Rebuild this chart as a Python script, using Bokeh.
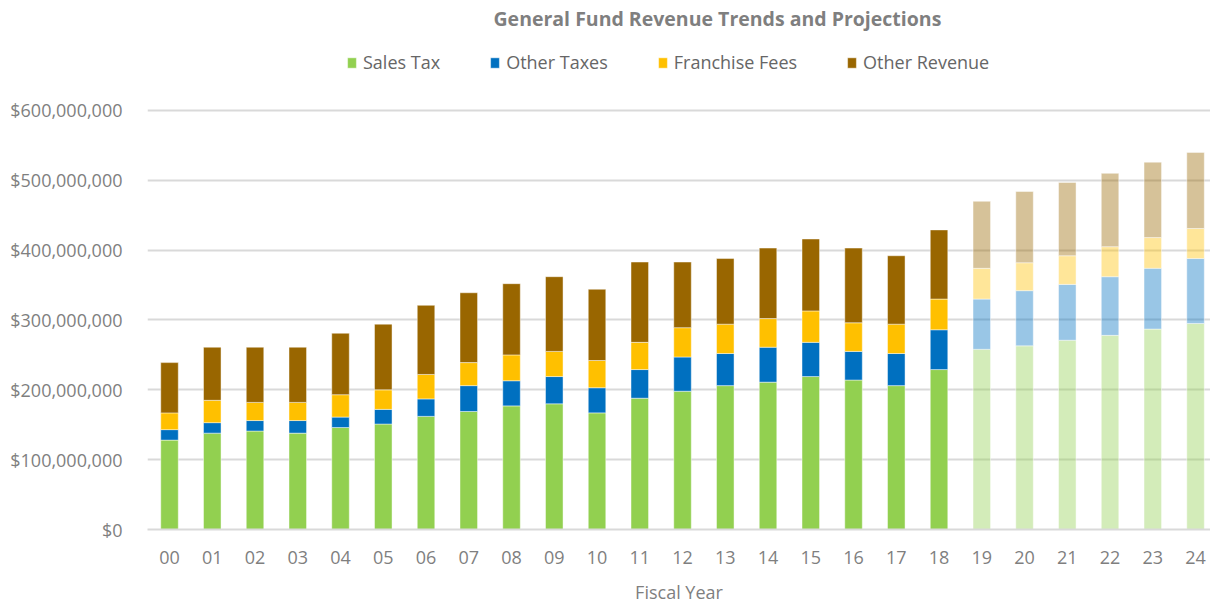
from bokeh.plotting import figure
from bokeh.models import (ColumnDataSource, Range1d, FixedTicker, NumeralTickFormatter,
                          Legend, LegendItem, Label)
from bokeh.embed import file_html
from bokeh.resources import INLINE

title_text = "General Fund Revenue Trends and Projections"
years = ["00", "01", "02", "03", "04", "05", "06", "07", "08", "09", "10", "11", "12",
         "13", "14", "15", "16", "17", "18", "19", "20", "21", "22", "23", "24"]
sales_tax = [128, 138, 141, 138, 146, 151, 162, 169, 177, 180, 167, 188, 198,
             206, 211, 219, 214, 206, 229, 258, 263, 271, 278, 287, 295]
other_taxes = [15, 15, 15, 18, 15, 21, 25, 37, 36, 39, 36, 41, 49,
               46, 50, 49, 41, 46, 57, 72, 79, 80, 84, 87, 93]
franchise_fees = [24, 32, 26, 26, 32, 28, 35, 33, 37, 36, 39, 39, 42,
                  42, 41, 45, 41, 42, 44, 44, 40, 41, 43, 44, 43]
other_revenue = [72, 76, 79, 79, 88, 94, 99, 100, 102, 107, 102, 115, 94,
                 94, 101, 103, 107, 98, 99, 96, 102, 105, 105, 108, 109]
projected = [False] * 19 + [True] * 6
y_ticks = [0, 100e6, 200e6, 300e6, 400e6, 500e6, 600e6]

series = ["sales", "other_tax", "franchise", "other_rev"]
names = ["Sales Tax", "Other Taxes", "Franchise Fees", "Other Revenue"]
colors = ["#92D050", "#0070C0", "#FFC000", "#996600"]

M = 1_000_000
data = dict(
    x=list(range(len(years))),
    sales=[v * M for v in sales_tax],
    other_tax=[v * M for v in other_taxes],
    franchise=[v * M for v in franchise_fees],
    other_rev=[v * M for v in other_revenue],
    alpha=[0.4 if pr else 1.0 for pr in projected],
)
src = ColumnDataSource(data)

FONT = "Open Sans"
GRAY = "#7F7F7F"

p = figure(width=1210, height=607, output_backend="svg", toolbar_location=None,
           x_range=Range1d(-0.515, 24.35), y_range=Range1d(0, 757.5e6),
           min_border_left=147, min_border_right=0, min_border_top=0, min_border_bottom=78)
p.outline_line_color = None

renderers = p.vbar_stack(series, x="x", width=0.41, source=src, color=colors,
                         fill_alpha="alpha", line_color="white", line_alpha=0.45, line_width=1)

items = [LegendItem(label=n, renderers=[r]) for n, r in zip(names, renderers)]
legend = Legend(items=items, orientation="horizontal", location=(199, 455),
                label_text_font=FONT, label_text_font_size="18px", label_text_color="#666666",
                glyph_width=11, glyph_height=13, label_standoff=6, spacing=49,
                border_line_color=None, background_fill_alpha=0, padding=0, margin=0)
p.add_layout(legend, "center")

title = Label(x=346, y=511, x_units="screen", y_units="screen", text=title_text,
              text_font=FONT, text_font_size="19.5px", text_font_style="bold",
              text_color=GRAY, text_baseline="middle", text_align="left")
p.add_layout(title)

p.xaxis.ticker = FixedTicker(ticks=list(range(len(years))))
p.xaxis.major_label_overrides = {i: y for i, y in enumerate(years)}
p.xaxis.axis_label = "Fiscal Year"
p.xaxis.axis_label_text_font = FONT
p.xaxis.axis_label_text_font_size = "18px"
p.xaxis.axis_label_text_font_style = "normal"
p.xaxis.axis_label_text_color = GRAY
p.xaxis.axis_label_standoff = 13
p.xaxis.major_label_text_font = FONT
p.xaxis.major_label_text_font_size = "18px"
p.xaxis.major_label_text_color = GRAY
p.xaxis.major_label_standoff = 15
p.xaxis.axis_line_color = "#D9D9D9"
p.xaxis.axis_line_width = 2
p.xaxis.major_tick_line_color = None
p.xaxis.minor_tick_line_color = None

p.yaxis.ticker = FixedTicker(ticks=y_ticks)
p.yaxis.formatter = NumeralTickFormatter(format="$0,0")
p.yaxis.major_label_text_font = FONT
p.yaxis.major_label_text_font_size = "18px"
p.yaxis.major_label_text_color = GRAY
p.yaxis.major_label_standoff = 19
p.yaxis.axis_line_color = None
p.yaxis.major_tick_line_color = None
p.yaxis.minor_tick_line_color = None

p.xgrid.grid_line_color = None
p.ygrid.grid_line_color = "#D9D9D9"
p.ygrid.grid_line_width = 2
p.ygrid.level = "underlay"

open("out.html", "w").write(file_html(p, INLINE))
